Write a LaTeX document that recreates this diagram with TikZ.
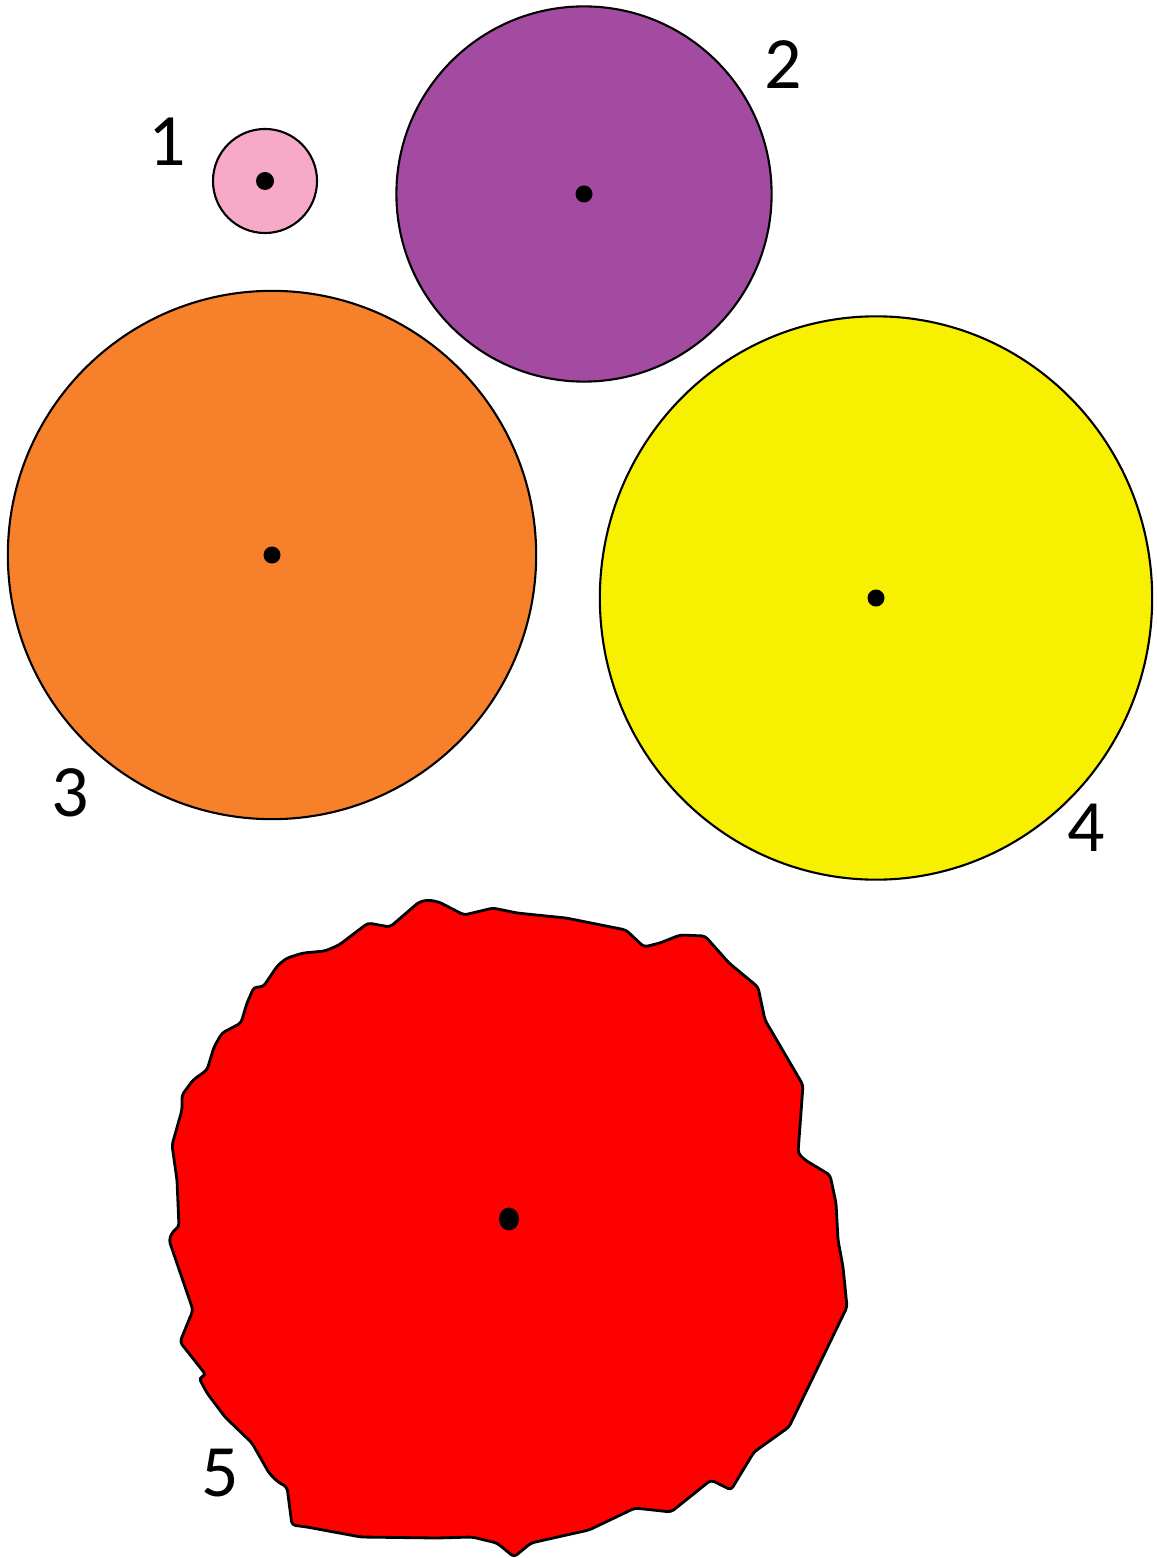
\documentclass[tikz,border=0pt]{standalone}
\usepackage{fontspec}
\setmainfont{Carlito}
\usetikzlibrary{shapes.geometric}

\definecolor{discpink}{HTML}{F7AAC8}
\definecolor{discpurple}{HTML}{A24BA0}
\definecolor{discorange}{HTML}{F7812A}
\definecolor{discyellow}{HTML}{F7F000}
\definecolor{blobred}{HTML}{FF0000}

\begin{document}
\begin{tikzpicture}[
      x=0.01cm, y=-0.01cm,
      disc/.style={circle, draw=black, line width=0.6pt, inner sep=0pt},
      oval/.style={ellipse, draw=black, line width=0.6pt, inner sep=0pt},
      centre/.style={circle, fill=black, inner sep=0pt, minimum size=0.17cm},
      numlabel/.style={inner sep=0pt, font=\fontsize{21}{24}\selectfont},
    ]
    \useasboundingbox (0,0) rectangle (1156,1558);
    % discs
    \node[disc, fill=discpink, minimum size=1.04cm] (d1) at (265,181) {};
    \node[disc, fill=discpurple, minimum size=3.75cm] (d2) at (584,194) {};
    \node[disc, fill=discorange, minimum size=5.28cm] (d3) at (272,555) {};
    \node[oval, fill=discyellow, minimum width=5.52cm, minimum height=5.63cm] (d4) at (876,598) {};
    % irregular blob
    \draw[fill=blobred, line width=0.8pt, rounded corners=1pt]
      (428,900) -- (439,902) -- (464,915) -- (493,908) -- (517,913) -- (566,918)
      -- (626,930) -- (644,947) -- (660,943) -- (680,935) -- (705,936) -- (729,963)
      -- (758,987) -- (765,1020) -- (803,1085) -- (798,1153) -- (805,1160)
      -- (830,1175) -- (836,1203) -- (838,1240) -- (843,1267) -- (847,1307)
      -- (789,1427) -- (754,1452) -- (731,1490) -- (711,1480) -- (671,1512)
      -- (635,1508) -- (589,1530) -- (553,1538) -- (531,1543) -- (514,1557)
      -- (497,1543) -- (472,1537) -- (437,1538) -- (361,1537)
      -- (307,1527) -- (292,1525) -- (287,1487) -- (278,1482) -- (269,1473)
      -- (252,1443) -- (225,1417) -- (207,1393) -- (199,1378) -- (206,1375)
      -- (180,1342) -- (193,1310) -- (169,1240) -- (173,1231)
      -- (179,1227) -- (177,1180) -- (172,1145) -- (182,1110) -- (182,1095)
      -- (193,1080) -- (207,1070) -- (214,1047) -- (222,1033) -- (241,1023)
      -- (247,1003) -- (254,987) -- (263,987) -- (278,965) -- (287,958)
      -- (303,953) -- (325,951) -- (339,945) -- (368,923) -- (390,927)
      -- (419,902) -- cycle;
    \coordinate (d5) at (509,1219);
    % centre points
    \node[centre, minimum size=0.18cm] (p1) at (d1) {};
    \node[centre] (p2) at (d2) {};
    \node[centre] (p3) at (d3) {};
    \node[centre] (p4) at (d4) {};
    \node[ellipse, fill=black, inner sep=0pt, minimum width=0.2cm, minimum height=0.23cm] (p5) at (d5) {};
    % labels
    \node[numlabel] (l1) at (167,142) {1};
    \node[numlabel] (l2) at (783,65) {2};
    \node[numlabel] (l3) at (70,793) {3};
    \node[numlabel] (l4) at (1086,828) {4};
    \node[numlabel] (l5) at (220,1473) {5};
\end{tikzpicture}
\end{document}
